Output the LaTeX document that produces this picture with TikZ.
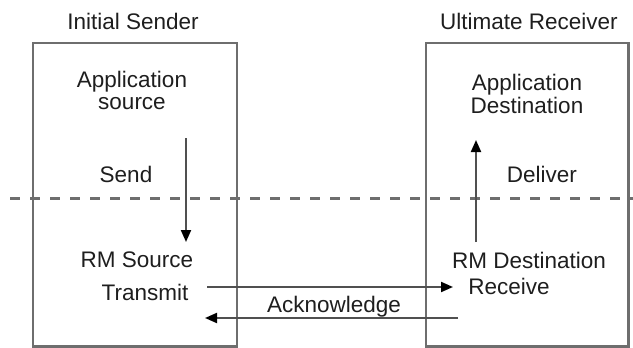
\documentclass[tikz,border=0pt]{standalone}
\usepackage{fontspec}
\setmainfont{Liberation Sans}
\usetikzlibrary{arrows.meta}
\definecolor{boxgray}{HTML}{6E6E6E}
\definecolor{arrgray}{HTML}{505050}
\definecolor{txt}{HTML}{1E1E1E}
\begin{document}
\begin{tikzpicture}[x=1pt,y=-1pt,
  lbl/.style={inner sep=0pt,anchor=base,text=txt,font=\fontsize{22.5}{23}\selectfont},
  frame/.style={draw=boxgray,line width=2.2pt},
  flow/.style={draw=arrgray,line width=2pt,-{Triangle[length=12pt,width=10pt,color=black]}},
  layer/.style={draw=boxgray,line width=3pt,dash pattern=on 10pt off 10pt}]
\useasboundingbox (0,0) rectangle (633,348);
% boxes
\draw[frame] (33,43) rectangle (237,346.5);
\draw[frame] (426,43) rectangle (628.5,346.5);
% dashed line
\coordinate (dl) at (10,198);
\coordinate (dr) at (633,198);
\draw[layer] (dl) -- (dr);
% titles
\node[lbl] (sender) at (133,29) {Initial Sender};
\node[lbl] (receiver) at (529,29) {Ultimate Receiver};
% left texts
\node[lbl] (app1) at (132,87) {Application};
\node[lbl] (app2) at (132,109) {source};
\node[lbl] (send) at (126,182) {Send};
\node[lbl] (rmsrc) at (137,267) {RM Source};
\node[lbl] (transmit) at (145,300) {Transmit};
% right texts
\node[lbl] (dst1) at (527,90) {Application};
\node[lbl] (dst2) at (527,113) {Destination};
\node[lbl] (deliver) at (542,182) {Deliver};
\node[lbl] (rmdst) at (529,268) {RM Destination};
\node[lbl] (receive) at (509,294) {Receive};
\node[lbl] (ack) at (334,312) {Acknowledge};
% arrow end points
\coordinate (s1) at (186,138);
\coordinate (s2) at (186,242);
\coordinate (d1) at (476,242);
\coordinate (d2) at (476,140);
\coordinate (t1) at (207,287);
\coordinate (t2) at (453,287);
\coordinate (a1) at (458,318);
\coordinate (a2) at (205,318);
\draw[flow] (s1) -- (s2);
\draw[flow] (d1) -- (d2);
\draw[flow] (t1) -- (t2);
\draw[flow] (a1) -- (a2);
\end{tikzpicture}
\end{document}
